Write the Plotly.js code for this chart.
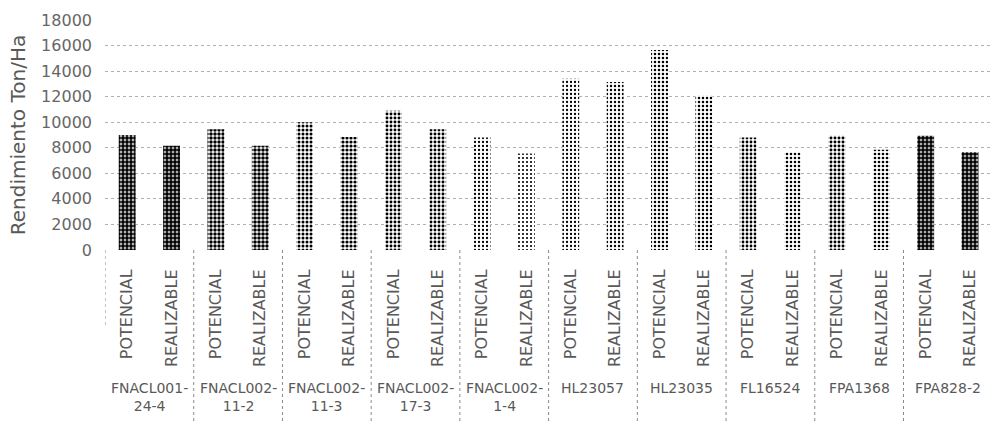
<!DOCTYPE html>
<html>
<head>
<meta charset="utf-8">
<script src="https://cdn.plot.ly/plotly-3.0.1.min.js"></script>
<style>
  html, body { margin: 0; padding: 0; background: #fff; }
  #chart { width: 990px; height: 424px; }
</style>
</head>
<body>
<div id="chart"></div>
<script>
// ---- data ----
const groups = ['FNACL001-24-4', 'FNACL002-11-2', 'FNACL002-11-3', 'FNACL002-17-3', 'FNACL002-1-4',
                'HL23057', 'HL23035', 'FL16524', 'FPA1368', 'FPA828-2'];
const seriesNames = ['POTENCIAL', 'REALIZABLE'];
const potencial  = [9000, 9450, 10000, 10900, 8800, 13400, 15650, 8800, 8950, 8950];
const realizable = [8150, 8150, 8850, 9450, 7550, 13150, 12100, 7650, 7850, 7650];
// approximate darkness of each bar's dotted fill (pairs: potencial, realizable)
const darkPot  = [0.75, 0.60, 0.45, 0.42, 0.25, 0.25, 0.32, 0.38, 0.42, 0.78];
const darkReal = [0.78, 0.65, 0.50, 0.42, 0.22, 0.27, 0.30, 0.32, 0.35, 0.78];

// ---- build ----
function wrap(name) {
  if (name.length > 9) {
    const i = name.indexOf('-');
    return name.slice(0, i + 1) + '<br>' + name.slice(i + 1);
  }
  return name;
}
const keys = [], ticktext = [], yv = [], sol = [];
groups.forEach((g, i) => {
  seriesNames.forEach((s, j) => {
    keys.push(g + ' | ' + s);
    ticktext.push(s);
  });
  yv.push(potencial[i], realizable[i]);
  sol.push(darkPot[i], darkReal[i]);
});

const trace = {
  type: 'bar',
  x: keys,
  y: yv,
  marker: {
    color: '#ffffff',
    line: { width: 0 },
    pattern: { shape: '.', fgcolor: '#000000', bgcolor: '#ffffff', fgopacity: 1, size: 4, solidity: sol, fillmode: 'replace' }
  },
  hoverinfo: 'y'
};

const M = { l: 105, r: 0, t: 20, b: 174 };
const H = 424, plotH = H - M.t - M.b;
const px = p => -p / plotH;   // pixels below the x axis -> paper y

const fontFam = 'DejaVu Sans, sans-serif';

// group labels and dotted dividers
const annotations = groups.map((g, i) => ({
  x: 2 * i + 0.5, xref: 'x',
  y: px(128), yref: 'paper',
  yanchor: 'top', xanchor: 'center',
  text: wrap(g), showarrow: false, align: 'center',
  font: { family: fontFam, size: 14, color: '#595959' }
}));
const shapes = groups.map((g, i) => ({
  type: 'line', xref: 'x', yref: 'paper',
  x0: 2 * i - 0.5, x1: 2 * i - 0.5,
  y0: 0, y1: i === 0 ? px(77) : px(174),
  line: { color: '#8a8a8a', width: 1, dash: 'dot' }
}));

const layout = {
  width: 990, height: 424,
  margin: M,
  paper_bgcolor: '#ffffff',
  plot_bgcolor: '#ffffff',
  showlegend: false,
  bargap: 0.62,
  font: { family: fontFam, color: '#595959' },
  xaxis: {
    type: 'category',
    range: [-0.5, keys.length - 0.55],
    tickmode: 'array',
    tickvals: keys,
    ticktext: ticktext,
    tickangle: -90,
    tickfont: { family: fontFam, size: 16, color: '#595959' },
    ticks: 'outside',
    ticklen: 12,
    tickcolor: 'rgba(0,0,0,0)',
    showgrid: false,
    zeroline: false,
    showline: false,
    automargin: false
  },
  yaxis: {
    range: [0, 18000],
    dtick: 2000,
    tickformat: 'd',
    showgrid: true,
    gridcolor: '#b0b0b0',
    griddash: 'dot',
    gridwidth: 1,
    zeroline: false,
    showline: false,
    ticks: '',
    ticklabelstandoff: 12,
    tickfont: { family: fontFam, size: 16, color: '#666666' },
    title: { text: 'Rendimiento Ton/Ha', font: { family: fontFam, size: 20, color: '#595959' }, standoff: 10 },
    automargin: false
  },
  annotations: annotations,
  shapes: shapes
};

Plotly.newPlot('chart', [trace], layout, { displayModeBar: false, staticPlot: true });
</script>
</body>
</html>
